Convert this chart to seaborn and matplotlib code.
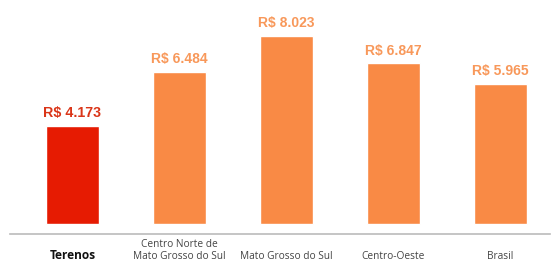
import pandas as pd
import seaborn as sns
import matplotlib.pyplot as plt


sns.set_theme(style="white")

# -----------------------------------
# Data
# -----------------------------------

regions = [
    "Terenos",
    "Centro Norte de\nMato Grosso do Sul",
    "Mato Grosso do Sul",
    "Centro-Oeste",
    "Brasil",
]

values = [4173, 6484, 8023, 6847, 5965]

value_labels = ["R$ 4.173", "R$ 6.484", "R$ 8.023", "R$ 6.847", "R$ 5.965"]

df = pd.DataFrame({"region": regions, "value": values})

bar_colors = ["#E61B02", "#F98A45", "#F98A45", "#F98A45", "#F98A45"]
label_colors = ["#DA3518", "#F8985A", "#F8985A", "#F8985A", "#F8985A"]

# -----------------------------------
# Plot
# -----------------------------------

fig = plt.figure(figsize=(5.6, 2.64), dpi=100)

ax = fig.add_axes([10 / 560, 1 - 234 / 264, 540 / 560, 234 / 264])

sns.barplot(
    data=df,
    x="region",
    y="value",
    hue="region",
    palette=bar_colors,
    saturation=1,
    width=0.5,
    legend=False,
    ax=ax
)

ax.set_ylim(-426, 9540)
ax.set_xlim(-0.584, 4.463)

# Value labels above bars
for i, (v, lab) in enumerate(zip(values, value_labels)):
    ax.text(
        i,
        v + 240,
        lab,
        ha="center",
        va="bottom",
        fontsize=10.3 if i == 0 else 10,
        fontweight="bold" if i == 0 else "semibold",
        color=label_colors[i],
        family="Liberation Sans"
    )

# Axis styling
for side in ["top", "right", "left"]:
    ax.spines[side].set_visible(False)

ax.spines["bottom"].set_color("#BBBBBB")
ax.spines["bottom"].set_linewidth(1.2)

ax.set_yticks([])
ax.set_xlabel("")
ax.set_ylabel("")

ax.tick_params(axis="x", length=0, pad=20)

for i, tl in enumerate(ax.get_xticklabels()):
    tl.set_verticalalignment("bottom")
    tl.set_family("Open Sans")
    tl.set_linespacing(1.1)
    if i == 0:
        tl.set_fontsize(8.6)
        tl.set_fontweight("bold")
        tl.set_color("#111111")
    else:
        tl.set_fontsize(7.3)
        tl.set_color("#444444")

plt.savefig("out.png", dpi=100)

plt.close(fig)
